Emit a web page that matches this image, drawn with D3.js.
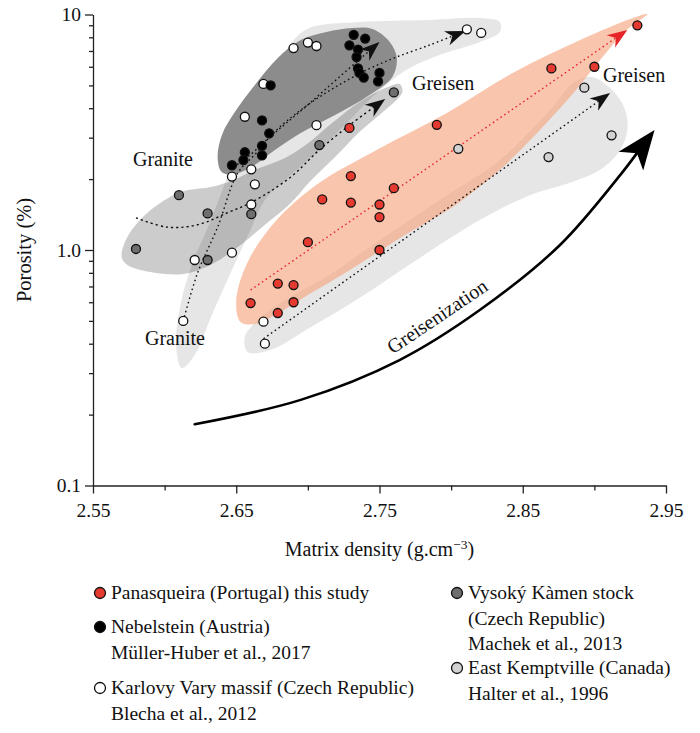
<!DOCTYPE html>
<html>
<head>
<meta charset="utf-8">
<script src="https://cdn.jsdelivr.net/npm/d3@7"></script>
<style>
  body { margin: 0; background: #fff; }
  svg { display: block; }
  text { font-family: "Liberation Serif", "Times New Roman", serif; fill: #111; }
</style>
</head>
<body>
<svg id="chart" width="700" height="733"></svg>
<script>
// ---- Samples: [matrix density (g/cm3), porosity (%)] ----
const panasqueira = [[2.930,9.0],[2.870,5.9],[2.900,6.0],[2.790,3.4],[2.760,1.83],[2.729,3.3],
  [2.730,2.06],[2.710,1.64],[2.730,1.59],[2.750,1.56],[2.750,1.38],[2.700,1.08],[2.750,1.0],
  [2.679,0.72],[2.690,0.71],[2.660,0.595],[2.690,0.60],[2.679,0.54]];
const nebelstein = [[2.732,8.2],[2.740,7.9],[2.729,7.4],[2.735,7.1],[2.734,6.6],[2.735,5.9],
  [2.736,5.65],[2.739,5.4],[2.750,5.65],[2.749,5.2],[2.674,5.0],[2.668,3.55],[2.673,3.13],
  [2.668,2.77],[2.656,2.6],[2.668,2.52],[2.655,2.41],[2.647,2.29]];
const karlovyVary = [[2.690,7.2],[2.700,7.6],[2.706,7.35],[2.669,5.07],[2.656,3.68],[2.706,3.39],
  [2.6605,2.2],[2.647,2.05],[2.663,1.9],[2.6605,1.56],[2.811,8.65],[2.821,8.35],[2.621,0.907],
  [2.647,0.974],[2.613,0.50],[2.669,0.496],[2.670,0.40]];
const vysokyKamen = [[2.760,4.67],[2.708,2.79],[2.610,1.71],[2.630,1.43],[2.6605,1.42],[2.580,1.01],[2.630,0.907]];
const eastKemptville = [[2.893,4.89],[2.912,3.07],[2.868,2.48],[2.805,2.69]];

// ---- Field outlines (data units) ----
const fieldKarlovy = [[2.612,0.315],[2.608,0.395],[2.611,0.584],[2.619,0.864],[2.630,1.24],[2.639,1.71],
  [2.647,2.30],[2.656,3.08],[2.668,4.34],[2.679,5.93],[2.689,7.64],[2.701,8.76],[2.736,9.29],[2.785,9.48],
  [2.820,9.66],[2.834,9.29],[2.834,8.43],[2.820,7.64],[2.792,6.73],[2.771,5.93],[2.757,5.17],[2.743,4.34],
  [2.726,3.40],[2.708,2.66],[2.688,2.08],[2.670,1.63],[2.660,1.22],[2.647,0.822],[2.633,0.530],[2.621,0.358]];
const fieldKemptville = [[2.658,0.369],[2.656,0.427],[2.665,0.504],[2.684,0.613],[2.715,0.783],[2.750,1.10],
  [2.792,1.63],[2.834,2.41],[2.869,3.93],[2.886,5.17],[2.898,5.43],[2.911,4.87],[2.921,4.01],[2.923,3.23],
  [2.918,2.66],[2.904,2.19],[2.883,1.93],[2.855,1.71],[2.820,1.34],[2.778,0.925],[2.736,0.625],[2.701,0.466],[2.674,0.376]];
const fieldVysoky = [[2.570,0.934],[2.574,1.136],[2.588,1.44],[2.611,1.76],[2.632,1.85],[2.648,1.98],
  [2.663,2.19],[2.684,2.46],[2.701,2.87],[2.718,3.50],[2.736,4.25],[2.754,4.87],[2.764,5.07],[2.766,4.69],
  [2.754,3.93],[2.736,3.17],[2.719,2.48],[2.701,1.94],[2.688,1.58],[2.670,1.28],[2.653,1.05],[2.632,0.864],
  [2.613,0.791],[2.590,0.807],[2.574,0.864]];
const fieldNebelstein = [[2.637,2.46],[2.640,3.08],[2.649,3.85],[2.663,5.02],[2.679,6.54],[2.695,7.79],
  [2.713,8.43],[2.731,8.76],[2.745,8.68],[2.756,7.79],[2.762,6.60],[2.759,5.43],[2.743,4.55],[2.719,3.74],
  [2.695,3.14],[2.677,2.66],[2.663,2.30],[2.649,2.10],[2.640,2.14]];
const fieldPanasqueira = [[2.653,0.495],[2.650,0.613],[2.658,0.889],[2.677,1.315],[2.707,1.91],[2.748,2.66],
  [2.797,3.82],[2.843,5.64],[2.890,7.79],[2.925,9.57],[2.937,10.06],[2.921,8.43],[2.904,6.41],[2.883,4.46],
  [2.860,3.14],[2.834,2.19],[2.803,1.55],[2.771,1.19],[2.748,0.971],[2.726,0.799],[2.701,0.650],[2.681,0.546],[2.663,0.485]];

// ---- Granite -> greisen trends (data units, last point = arrow tip) ----
const trendPanasqueira = [[2.660,0.676],[2.923,8.59]];
const trendKemptville = [[2.669,0.42],[2.911,4.64]];
const trendKarlovy = [[2.613,0.499],[2.623,0.799],[2.637,1.25],[2.651,2.12],[2.664,2.58],[2.676,3.14],
  [2.695,3.93],[2.718,4.87],[2.741,5.81],[2.762,6.60],[2.785,7.42],[2.810,8.51]];
const trendNebelstein = [[2.648,2.25],[2.658,2.48],[2.671,2.93],[2.685,3.46],[2.704,4.34],[2.722,5.43],[2.750,7.64]];
const trendVysoky = [[2.580,1.37],[2.602,1.25],[2.623,1.28],[2.644,1.44],[2.662,1.61],[2.688,2.04],
  [2.708,2.66],[2.731,3.46],[2.754,4.38]];
const greisenization = [[2.621,0.182],[2.695,0.231],[2.764,0.341],[2.820,0.556],[2.876,1.05],[2.918,2.08],[2.942,3.23]];

// ---- Axes ----
const xTicks = [2.55, 2.65, 2.75, 2.85, 2.95];
const xMinorTicks = [2.60, 2.70, 2.80, 2.90];
const yTicks = [0.1, 1, 10];
const yTickLabels = ["0.1", "1.0", "10"];
const yMinorTicks = [0.2,0.3,0.4,0.5,0.6,0.7,0.8,0.9,2,3,4,5,6,7,8,9];

const svg = d3.select("#chart");
const x = d3.scaleLinear().domain([2.55, 2.95]).range([93, 666]);
const y = d3.scaleLog().domain([0.1, 10]).range([485.5, 14.5]);

const outline = d3.line().x(d => x(d[0])).y(d => y(d[1])).curve(d3.curveCatmullRomClosed.alpha(0.5));
const path = d3.line().x(d => x(d[0])).y(d => y(d[1])).curve(d3.curveCatmullRom.alpha(0.5));

// fields
const gFields = svg.append("g");
gFields.append("path").attr("d", outline(fieldKarlovy)).attr("fill", "#e6e6e6");
gFields.append("path").attr("d", outline(fieldKemptville)).attr("fill", "#e6e6e6");
gFields.append("path").attr("d", outline(fieldVysoky)).attr("fill", "#000").attr("fill-opacity", 0.2);
gFields.append("path").attr("d", outline(fieldNebelstein)).attr("fill", "#8c8c8c");
gFields.append("path").attr("d", outline(fieldPanasqueira)).attr("fill", "#f6a681").attr("fill-opacity", 0.65);

// trend lines with dart heads
function dart(len, half, notch) {
  return `M0,0 L${-len},${-half} L${-notch},0 L${-len},${half} Z`;
}
function drawTrend(pts, color, dash, width, head) {
  const p = pts.map(d => [x(d[0]), y(d[1])]);
  const tip = p[p.length - 1], prev = p[p.length - 2];
  const ang = Math.atan2(tip[1] - prev[1], tip[0] - prev[0]);
  const g = svg.append("g");
  const trimmed = pts.slice(0, -1);
  // stop the stroke at the notch of the head
  const back = [x.invert(tip[0] - Math.cos(ang) * head[2]), y.invert(tip[1] - Math.sin(ang) * head[2])];
  g.append("path").attr("d", path(trimmed.concat([back])))
    .attr("fill", "none").attr("stroke", color).attr("stroke-width", width)
    .attr("stroke-dasharray", dash).attr("stroke-linecap", dash ? "butt" : "round");
  g.append("path").attr("d", dart(head[0], head[1], head[2]))
    .attr("transform", `translate(${tip[0]},${tip[1]}) rotate(${ang * 180 / Math.PI})`)
    .attr("fill", color);
}
const smallHead = [20, 7.5, 14];
drawTrend(trendVysoky, "#111", "2.2,3", 1.4, smallHead);
drawTrend(trendKarlovy, "#111", "1.6,3", 1.4, smallHead);
drawTrend(trendNebelstein, "#111", "1.6,3", 1.4, smallHead);
drawTrend(trendKemptville, "#111", "1.6,3", 1.4, smallHead);
drawTrend(trendPanasqueira, "#e8262a", "1.6,3", 1.4, smallHead);
drawTrend(greisenization, "#000", null, 2.6, [39, 15.5, 29]);

// samples
const series = [
  { data: vysokyKamen, fill: "#6e6e6e" },
  { data: eastKemptville, fill: "#d2d2d2" },
  { data: karlovyVary, fill: "#ffffff" },
  { data: nebelstein, fill: "#000000" },
  { data: panasqueira, fill: "#e53a30" }
];
series.forEach(s => {
  svg.append("g").selectAll("circle").data(s.data).join("circle")
    .attr("cx", d => x(d[0])).attr("cy", d => y(d[1])).attr("r", 4.5)
    .attr("fill", s.fill).attr("stroke", "#111").attr("stroke-width", 1.3);
});

// axes
function styleAxis(g) {
  g.selectAll("path.domain").attr("stroke", "#222").attr("stroke-width", 1.3);
  g.selectAll(".tick line").attr("stroke", "#222").attr("stroke-width", 1.3);
  g.selectAll(".tick text").attr("font-size", 19.5).attr("fill", "#111")
    .style("font-family", '"Liberation Serif", serif');
}
const gx = svg.append("g").attr("transform", `translate(0,${y(0.1)})`)
  .call(d3.axisBottom(x).tickValues(xTicks).tickFormat(d3.format(".2f")).tickSize(8).tickSizeOuter(0).tickPadding(10));
styleAxis(gx);
const gxm = svg.append("g").attr("transform", `translate(0,${y(0.1)})`)
  .call(d3.axisBottom(x).tickValues(xMinorTicks).tickFormat("").tickSize(5).tickSizeOuter(0));
gxm.select("path.domain").remove(); styleAxis(gxm);

const gy = svg.append("g").attr("transform", `translate(${x(2.55)},0)`)
  .call(d3.axisLeft(y).tickValues(yTicks).tickFormat((d, i) => yTickLabels[i]).tickSize(8).tickSizeOuter(0).tickPadding(4));
styleAxis(gy);
const gym = svg.append("g").attr("transform", `translate(${x(2.55)},0)`)
  .call(d3.axisLeft(y).tickValues(yMinorTicks).tickFormat("").tickSize(4).tickSizeOuter(0));
gym.select("path.domain").remove(); styleAxis(gym);

// axis titles
const xt = svg.append("text").attr("x", (x.range()[0] + x.range()[1]) / 2).attr("y", 556)
  .attr("text-anchor", "middle").attr("font-size", 20);
xt.append("tspan").text("Matrix density (g.cm");
xt.append("tspan").attr("dy", -7).attr("font-size", 13.5).text("\u22123");
xt.append("tspan").attr("dy", 7).text(")");
svg.append("text").attr("transform", `translate(31,${(y.range()[0] + y.range()[1]) / 2}) rotate(-90)`)
  .attr("text-anchor", "middle").attr("font-size", 20.5).text("Porosity (%)");

// annotations
const notes = [
  { t: "Granite", x: 133, y: 166 },
  { t: "Granite", x: 145, y: 345 },
  { t: "Greisen", x: 412, y: 90 },
  { t: "Greisen", x: 603, y: 82 }
];
svg.append("g").selectAll("text").data(notes).join("text")
  .attr("x", d => d.x).attr("y", d => d.y).attr("font-size", 20).text(d => d.t);
svg.append("text").attr("transform", "translate(441,322) rotate(-34)")
  .attr("text-anchor", "middle").attr("font-size", 20).text("Greisenization");

// legend
const legendItems = [
  { fill: "#e53a30", lines: ["Panasqueira (Portugal) this study"], x: 100, y: 593 },
  { fill: "#000000", lines: ["Nebelstein (Austria)", "Müller-Huber et al., 2017"], x: 100, y: 627 },
  { fill: "#ffffff", lines: ["Karlovy Vary massif (Czech Republic)", "Blecha et al., 2012"], x: 100, y: 688 },
  { fill: "#6e6e6e", lines: ["Vysoký Kàmen stock", "(Czech Republic)", "Machek et al., 2013"], x: 457, y: 593 },
  { fill: "#d2d2d2", lines: ["East Kemptville (Canada)", "Halter et al., 1996"], x: 457, y: 668 }
];
const lg = svg.append("g").selectAll("g").data(legendItems).join("g");
lg.append("circle").attr("cx", d => d.x).attr("cy", d => d.y).attr("r", 5.5)
  .attr("fill", d => d.fill).attr("stroke", "#111").attr("stroke-width", 1.3);
lg.each(function (d) {
  const t = d3.select(this).append("text").attr("x", d.x + 11).attr("y", d.y + 6).attr("font-size", 19.5);
  d.lines.forEach((l, i) => t.append("tspan").attr("x", d.x + 11).attr("dy", i === 0 ? 0 : 25.5).text(l));
});
</script>
</body>
</html>
